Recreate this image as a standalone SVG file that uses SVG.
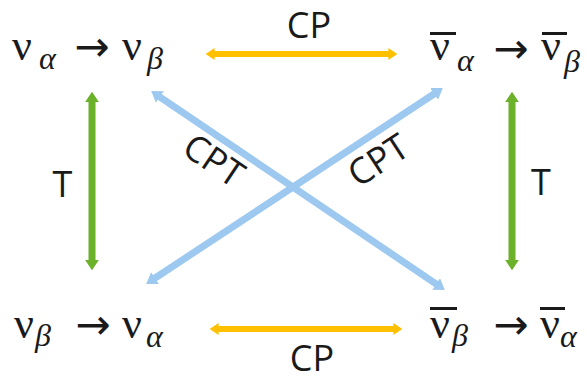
<svg xmlns="http://www.w3.org/2000/svg" width="587" height="381" viewBox="0 0 587 381">
<style>
.lbl{font-family:"Open Sans","Liberation Sans",sans-serif;font-size:36px;fill:#1a1a1a}
.nu{font-family:"Liberation Serif","DejaVu Serif",serif;font-size:44px;fill:#1a1a1a}
.sub{font-family:"Liberation Serif","DejaVu Serif",serif;font-size:32px;font-style:italic;fill:#1a1a1a}
.arr{font-family:"DejaVu Sans",sans-serif;font-size:42px;fill:#1a1a1a}
.bar{stroke:#1a1a1a;stroke-width:3}
.cp{stroke:#FFC000;stroke-width:6;fill:none}
.t{stroke:#6BB22A;stroke-width:7;fill:none}
.cpt{stroke:#9DC8F0;stroke-width:7;fill:none}
</style>
<defs>
<marker id="hy" viewBox="0 0 3 4" refX="0.2" refY="2" markerWidth="1.5" markerHeight="2" orient="auto-start-reverse" markerUnits="strokeWidth"><path d="M0,0 L3,2 L0,4 z" fill="#FFC000"/></marker>
<marker id="hg" viewBox="0 0 3 4" refX="0.2" refY="2" markerWidth="1.5" markerHeight="2" orient="auto-start-reverse" markerUnits="strokeWidth"><path d="M0,0 L3,2 L0,4 z" fill="#6BB22A"/></marker>
<marker id="hb" viewBox="0 0 3 4" refX="0.2" refY="2" markerWidth="1.5" markerHeight="2" orient="auto-start-reverse" markerUnits="strokeWidth"><path d="M0,0 L3,2 L0,4 z" fill="#9DC8F0"/></marker>
</defs>
<g id="connectors">
<line class="cp" x1="214" y1="54" x2="389" y2="54" marker-start="url(#hy)" marker-end="url(#hy)"/>
<line class="cp" x1="218" y1="329" x2="394" y2="329" marker-start="url(#hy)" marker-end="url(#hy)"/>
<line class="t" x1="92" y1="101.5" x2="92" y2="260.5" marker-start="url(#hg)" marker-end="url(#hg)"/>
<line class="t" x1="512" y1="101.5" x2="512" y2="260.5" marker-start="url(#hg)" marker-end="url(#hg)"/>
<line class="cpt" x1="159.3" y1="96.6" x2="436.7" y2="284.4" marker-start="url(#hb)" marker-end="url(#hb)"/>
<line class="cpt" x1="154.4" y1="278.5" x2="434.7" y2="93.5" marker-start="url(#hb)" marker-end="url(#hb)"/>
<text class="lbl" x="309" y="38" text-anchor="middle">CP</text>
<text class="lbl" x="312" y="371" text-anchor="middle">CP</text>
<text class="lbl" x="62.5" y="197" text-anchor="middle">T</text>
<text class="lbl" x="541" y="195" text-anchor="middle">T</text>
<text class="lbl" x="0" y="0" text-anchor="middle" transform="translate(214,160) rotate(34) translate(0,13)">CPT</text>
<text class="lbl" x="0" y="0" text-anchor="middle" transform="translate(378,160) rotate(-33) translate(0,13)">CPT</text>
</g>
<g id="n-tl">
<text class="nu" x="12" y="60">ν</text><text class="sub" x="39" y="69">α</text>
<text class="arr" x="92" y="61" text-anchor="middle">→</text>
<text class="nu" x="122" y="60">ν</text><text class="sub" x="147" y="69">β</text>
</g>
<g id="n-tr">
<line class="bar" x1="430" y1="33.5" x2="456" y2="33.5"/>
<text class="nu" x="430" y="60">ν</text><text class="sub" x="457" y="71">α</text>
<text class="arr" x="511" y="63" text-anchor="middle">→</text>
<line class="bar" x1="542" y1="33.5" x2="567" y2="33.5"/>
<text class="nu" x="541" y="60">ν</text><text class="sub" x="564" y="72">β</text>
</g>
<g id="n-bl">
<text class="nu" x="14" y="338">ν</text><text class="sub" x="35" y="346">β</text>
<text class="arr" x="93" y="339" text-anchor="middle">→</text>
<text class="nu" x="122" y="338">ν</text><text class="sub" x="146" y="347">α</text>
</g>
<g id="n-br">
<line class="bar" x1="430" y1="308.5" x2="457" y2="308.5"/>
<text class="nu" x="430" y="338">ν</text><text class="sub" x="452" y="346">β</text>
<text class="arr" x="511" y="339" text-anchor="middle">→</text>
<line class="bar" x1="540" y1="308.5" x2="565" y2="308.5"/>
<text class="nu" x="540" y="338">ν</text><text class="sub" x="560" y="347">α</text>
</g>
</svg>
